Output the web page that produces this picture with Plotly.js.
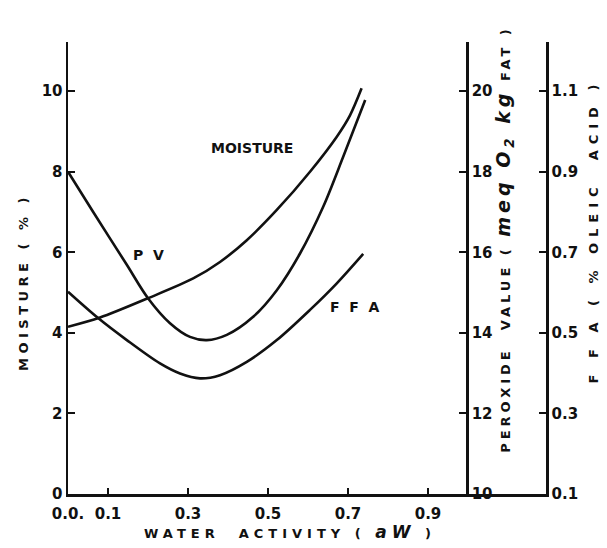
<!DOCTYPE html>
<html>
<head>
<meta charset="utf-8">
<script src="https://cdn.plot.ly/plotly-3.0.1.min.js"></script>
<style>
  html, body { margin: 0; padding: 0; background: #fff; }
  #chart { width: 607px; height: 548px; }
  .ytitle { letter-spacing: 4.5px; }
  .y2title { letter-spacing: 4px; }
  .y3title { letter-spacing: 6px; }
  .xtitle { letter-spacing: 5px; }
  .g-xtitle { transform: translate(-17px, 0px); }
  .g-ytitle { transform: translate(0px, 14px); }
  .g-y2title { transform: translate(5px, -29px); }
  .g-y3title { transform: translate(6px, -37px); }
</style>
</head>
<body>
<div id="chart"></div>
<script>
// Water activity (aw) sample points and values
const moistureAw = [0, 0.08, 0.20, 0.313, 0.38, 0.447, 0.522, 0.605, 0.672, 0.705, 0.734];
const moistureVals = [4.15, 4.38, 4.86, 5.35, 5.76, 6.30, 7.05, 8.00, 8.87, 9.40, 10.07];

const pvAw = [0, 0.063, 0.147, 0.2, 0.255, 0.305, 0.347, 0.397, 0.463, 0.522, 0.58, 0.638, 0.688, 0.743];
const pvVals = [18.0, 17.0, 15.69, 14.86, 14.24, 13.90, 13.82, 13.95, 14.40, 15.06, 15.97, 17.13, 18.37, 19.78];

const ffaAw = [0, 0.076, 0.147, 0.23, 0.28, 0.33, 0.38, 0.447, 0.522, 0.605, 0.672, 0.738];
const ffaVals = [0.602, 0.536, 0.482, 0.424, 0.399, 0.387, 0.395, 0.428, 0.482, 0.557, 0.623, 0.696];

const xTickVals = [0, 0.1, 0.3, 0.5, 0.7, 0.9];
const xTickText = ['0.0.', '0.1', '0.3', '0.5', '0.7', '0.9'];
const moistureTicks = [0, 2, 4, 6, 8, 10];
const pvTicks = [10, 12, 14, 16, 18, 20];
const ffaTicks = [0.1, 0.3, 0.5, 0.7, 0.9, 1.1];
const ffaTickText = ['0.1', '0.3', '0.5', '0.7', '0.9', '1.1'];

const INK = '#111111';
const FONT = 'DejaVu Sans';
const tickFont = {family: FONT, size: 15, color: INK, weight: 'bold'};
const titleFont = {family: FONT, size: 13, color: INK, weight: 'bold'};

const lineStyle = {color: INK, width: 2.6, shape: 'spline', smoothing: 0.9};

const traces = [
  {x: moistureAw, y: moistureVals, type: 'scatter', mode: 'lines', name: 'MOISTURE', line: lineStyle, yaxis: 'y'},
  {x: pvAw, y: pvVals, type: 'scatter', mode: 'lines', name: 'P V', line: lineStyle, yaxis: 'y2'},
  {x: ffaAw, y: ffaVals, type: 'scatter', mode: 'lines', name: 'F F A', line: lineStyle, yaxis: 'y3'}
];

const yTop = 11.22;

const layout = {
  width: 607, height: 548,
  margin: {l: 68, r: 61, t: 42, b: 54},
  paper_bgcolor: '#fff', plot_bgcolor: '#fff',
  showlegend: false,
  font: {family: FONT, color: INK},
  xaxis: {
    range: [0, 1.195], showgrid: false, zeroline: false,
    showline: true, linecolor: INK, linewidth: 2.5,
    ticks: 'inside', ticklen: 6, tickwidth: 2, tickcolor: INK,
    tickvals: xTickVals, ticktext: xTickText, tickfont: tickFont,
    ticklabelstandoff: 4,
    title: {text: 'WATER  ACTIVITY ( <i><span style="font-size:17px">aW</span></i> )', font: titleFont, standoff: 8}
  },
  yaxis: {
    range: [0, yTop], showgrid: false, zeroline: false,
    showline: true, linecolor: INK, linewidth: 2.5,
    ticks: 'inside', ticklen: 7, tickwidth: 2, tickcolor: INK,
    tickvals: moistureTicks, tickfont: tickFont,
    title: {text: 'MOISTURE ( % )', font: titleFont, standoff: 10}
  },
  yaxis2: {
    range: [10, 10 + yTop], overlaying: 'y', anchor: 'free', position: 0.835, side: 'right',
    showgrid: false, zeroline: false,
    showline: true, linecolor: INK, linewidth: 2.5,
    ticks: 'inside', ticklen: 7, tickwidth: 2, tickcolor: INK,
    tickvals: pvTicks, tickfont: tickFont,
    title: {text: 'PEROXIDE  VALUE ( <i><span style="font-size:19px">meq O<sub>2</sub> kg</span></i> FAT )', font: titleFont, standoff: 4}
  },
  yaxis3: {
    range: [0.1, 0.1 + yTop / 10], overlaying: 'y', anchor: 'x', side: 'right',
    showgrid: false, zeroline: false,
    showline: true, linecolor: INK, linewidth: 2.5,
    ticks: 'inside', ticklen: 7, tickwidth: 2, tickcolor: INK,
    tickvals: ffaTicks, ticktext: ffaTickText, tickfont: tickFont,
    title: {text: 'F F A ( % OLEIC  ACID )', font: titleFont, standoff: 6}
  },
  annotations: [
    {x: 0.46, y: 8.59, xref: 'x', yref: 'y', text: 'MOISTURE', showarrow: false,
     font: {family: FONT, size: 14, color: INK, weight: 'bold'}},
    {x: 0.2, y: 5.93, xref: 'x', yref: 'y', text: 'P  V', showarrow: false,
     font: {family: FONT, size: 14, color: INK, weight: 'bold'}},
    {x: 0.717, y: 4.64, xref: 'x', yref: 'y', text: 'F  F  A', showarrow: false,
     font: {family: FONT, size: 14, color: INK, weight: 'bold'}}
  ]
};

Plotly.newPlot('chart', traces, layout, {staticPlot: true, displayModeBar: false});
</script>
</body>
</html>
